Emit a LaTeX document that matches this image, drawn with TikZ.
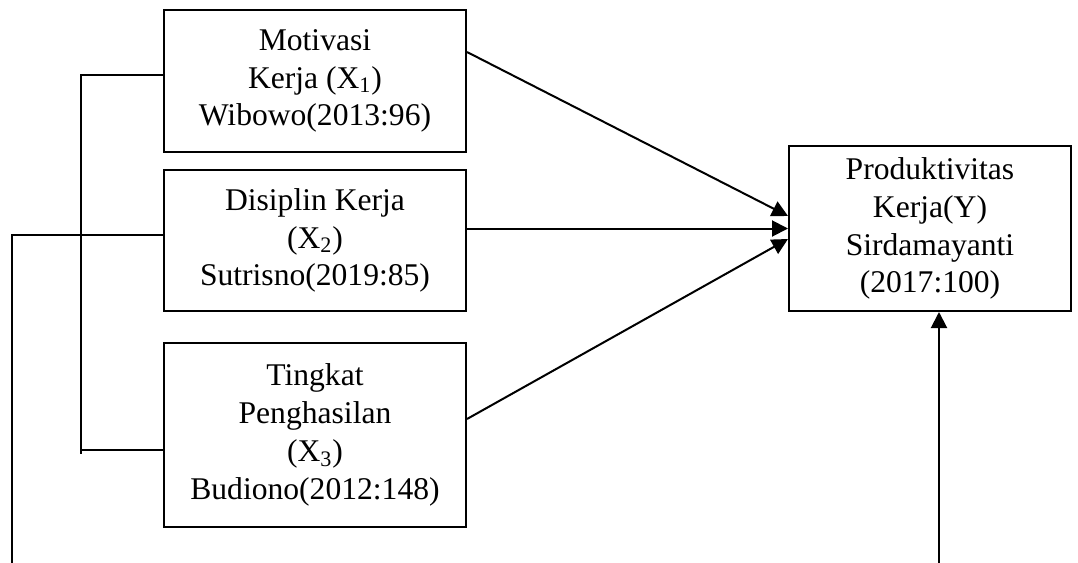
\documentclass[tikz,border=0pt]{standalone}
\usepackage{fontspec}
\setmainfont{Liberation Serif}
\usetikzlibrary{arrows.meta,calc}
\begin{document}
\begin{tikzpicture}[x=0.5pt,y=-0.5pt,line width=1pt,
    box/.style={draw,align=center,inner sep=0pt,minimum width=151pt,
        font=\fontsize{15.8}{18.9}\selectfont},
    arr/.style={-{Triangle[length=8pt,width=8pt]}}]
    \useasboundingbox (0,0) rectangle (1078,563);
    % variabel bebas
    \node[box,minimum height=71pt] (x1) at (315,81)
        {Motivasi\\Kerja (X\textsubscript{1})\\Wibowo(2013:96)};
    \node[box,minimum height=70.5pt] (x2) at (315,240.5)
        {Disiplin Kerja\\(X\textsubscript{2})\\Sutrisno(2019:85)};
    \node[box,minimum height=92pt] (x3) at (315,435)
        {Tingkat\\Penghasilan\\(X\textsubscript{3})\\Budiono(2012:148)};
    % variabel terikat
    \node[box,minimum width=141pt,minimum height=82.5pt] (y) at (930,228.5)
        {Produktivitas\\Kerja(Y)\\Sirdamayanti\\(2017:100)};
    % panah parsial
    \draw[arr] ($(x1.east)+(0,-29)$) -- ($(y.west)+(0,-12.5)$);
    \draw[arr] (x2.east |- y.west) -- (y.west);
    \draw[arr] ($(x3.east)+(0,-16)$) -- ($(y.west)+(0,10.5)$);
    % garis simultan
    \coordinate (top) at (81,75);
    \coordinate (bot) at (81,454);
    \coordinate (s3) at (81,450);
    \draw (x1.west |- top) -- (top) -- (bot);
    \draw (s3) -- (x3.west |- s3);
    \coordinate (o1) at (12,235);
    \coordinate (o2) at (12,563);
    \draw (x2.west |- o1) -- (o1) -- (o2);
    \coordinate (yb) at (939,563);
    \draw[arr] (yb) -- (yb |- y.south);
\end{tikzpicture}
\end{document}
